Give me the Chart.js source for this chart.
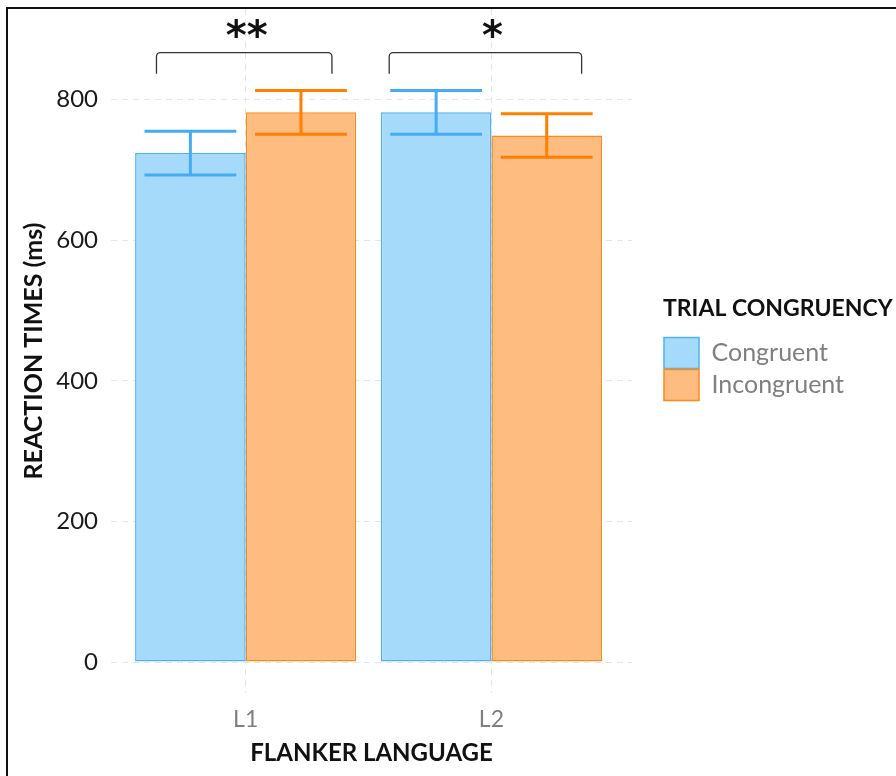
<!DOCTYPE html>
<html>
<head>
<meta charset="utf-8">
<script src="https://cdn.jsdelivr.net/npm/chart.js@4.4.1/dist/chart.umd.min.js"></script>
<style>
    html, body { margin: 0; padding: 0; background: #fff; overflow: hidden; }
    #wrap { position: relative; width: 896px; height: 776px; }
    #frame { position: absolute; left: 6px; top: 7px; width: 900px; height: 780px;
             border-left: 2px solid #111; border-top: 2px solid #111; pointer-events: none; }
</style>
</head>
<body>
<div id="wrap">
    <canvas id="rt-chart" width="896" height="776"></canvas>
    <div id="frame"></div>
</div>
<script>
// data
const categories = ['L1', 'L2'];
const categoryPos = [1, 2];
const congruent = [724, 782];
const incongruent = [782, 749];
const congruentSE = [31, 31];
const incongruentSE = [31, 31];
const yTicks = [0, 200, 400, 600, 800];

// significance brackets (x in category units, y in ms)
const sigLabels = ['**', '*'];
const bracketFrom = [0.637, 1.584];
const bracketTo = [1.351, 2.367];
const bracketTop = [867, 867];
const bracketFoot = [837, 837];
const sigLabelY = [898, 898];

const seriesColors = {
    congruent: { fill: '#a6dafa', border: '#4fb2f2', err: '#44acf5' },
    incongruent: { fill: '#ffbc80', border: '#ff8a17', err: '#ff7f00' }
};

const errorSets = [congruentSE, incongruentSE];

const extrasPlugin = {
    id: 'extras',
    beforeLayout(chart) {
        // legend box runs from x=663 to the right edge so the title is not clipped
        const lg = chart.legend;
        if (lg && !lg._wide) {
            const fit = lg.fit.bind(lg);
            lg.fit = function() { fit(); this.width = 233; };
            lg._wide = true;
        }
    },
    afterDatasetsDraw(chart) {
        const ctx = chart.ctx;
        const xs = chart.scales.x;
        const ys = chart.scales.y;

        // error bars
        chart.data.datasets.forEach((ds, i) => {
            const meta = chart.getDatasetMeta(i);
            meta.data.forEach((bar, j) => {
                const v = ds.data[j].y;
                const se = errorSets[i][j];
                const yHi = ys.getPixelForValue(v + se);
                const yLo = ys.getPixelForValue(v - se);
                const half = bar.width * 0.415;
                ctx.save();
                ctx.strokeStyle = ds.errorColor;
                ctx.lineWidth = 3;
                ctx.beginPath();
                ctx.moveTo(bar.x, yHi);
                ctx.lineTo(bar.x, yLo);
                ctx.moveTo(bar.x - half, yHi);
                ctx.lineTo(bar.x + half, yHi);
                ctx.moveTo(bar.x - half, yLo);
                ctx.lineTo(bar.x + half, yLo);
                ctx.stroke();
                ctx.restore();
            });
        });

        // brackets and stars
        sigLabels.forEach((lab, k) => {
            const x0 = xs.getPixelForValue(bracketFrom[k]);
            const x1 = xs.getPixelForValue(bracketTo[k]);
            const yt = ys.getPixelForValue(bracketTop[k]);
            const yf = ys.getPixelForValue(bracketFoot[k]);
            ctx.save();
            ctx.strokeStyle = '#333';
            ctx.lineWidth = 1.3;
            ctx.beginPath();
            ctx.moveTo(x0, yf);
            ctx.arcTo(x0, yt, x1, yt, 4);
            ctx.arcTo(x1, yt, x1, yf, 4);
            ctx.lineTo(x1, yf);
            ctx.stroke();
            ctx.fillStyle = '#111';
            ctx.font = 'bold 40px "DejaVu Sans"';
            ctx.textAlign = 'center';
            ctx.textBaseline = 'middle';
            ctx.fillText(lab, xs.getPixelForValue(categoryPos[k]) + 1, ys.getPixelForValue(sigLabelY[k]) + 8);
            ctx.restore();
        });
    }
};

const chart = new Chart(document.getElementById('rt-chart'), {
    type: 'bar',
    data: {
        datasets: [{
            label: 'Congruent',
            data: categoryPos.map((x, i) => ({ x: x, y: congruent[i] })),
            backgroundColor: seriesColors.congruent.fill,
            borderColor: seriesColors.congruent.border,
            errorColor: seriesColors.congruent.err,
            borderWidth: 1.5,
            borderSkipped: false
        }, {
            label: 'Incongruent',
            data: categoryPos.map((x, i) => ({ x: x, y: incongruent[i] })),
            backgroundColor: seriesColors.incongruent.fill,
            borderColor: seriesColors.incongruent.border,
            errorColor: seriesColors.incongruent.err,
            borderWidth: 1.5,
            borderSkipped: false
        }]
    },
    options: {
        responsive: false,
        animation: false,
        categoryPercentage: 0.9,
        barPercentage: 1.0,
        layout: { padding: { left: 0, right: 0, top: 9, bottom: 0 } },
        scales: {
            x: {
                type: 'linear',
                min: 0.452,
                max: 2.572,
                offset: false,
                afterBuildTicks: (scale) => { scale.ticks = categoryPos.map(v => ({ value: v })); },
                afterFit: (scale) => { scale.height = 83; scale.paddingLeft = 0; scale.paddingRight = 0; },
                grid: { color: '#e6e6e6', drawTicks: false, offset: false },
                border: { display: false, dash: [6, 5] },
                ticks: {
                    padding: 13,
                    color: '#7f7f7f',
                    font: { family: 'Lato', size: 23 },
                    callback: (v) => categories[categoryPos.indexOf(v)]
                },
                title: {
                    display: true,
                    text: 'FLANKER LANGUAGE',
                    color: '#111',
                    font: { family: 'Lato', size: 24, weight: 'bold' },
                    padding: { top: 0, bottom: 8 }
                }
            },
            y: {
                min: -44,
                max: 929,
                afterBuildTicks: (scale) => { scale.ticks = yTicks.map(v => ({ value: v })); },
                afterFit: (scale) => { scale.width = 111; scale.paddingTop = 0; scale.paddingBottom = 0; },
                grid: { color: '#e6e6e6', drawTicks: false },
                border: { display: false, dash: [6, 5] },
                ticks: {
                    padding: 13,
                    color: '#1a1a1a',
                    font: { family: 'Lato', size: 24 }
                },
                title: {
                    display: true,
                    text: 'REACTION TIMES (ms)',
                    color: '#111',
                    font: { family: 'Lato', size: 25, weight: 'bold' },
                    padding: { top: 19, bottom: 0 }
                }
            },
            // empty strip between the panel and the legend
            gap: {
                type: 'linear',
                position: 'right',
                grid: { display: false },
                border: { display: false },
                ticks: { display: false },
                afterFit: (scale) => { scale.width = 31; scale.paddingTop = 0; scale.paddingBottom = 0; }
            }
        },
        plugins: {
            legend: {
                position: 'right',
                align: 'start',
                title: {
                    display: true,
                    text: 'TRIAL CONGRUENCY',
                    position: 'start',
                    color: '#111',
                    font: { family: 'Lato', size: 23, weight: 'bold' },
                    padding: { top: 288, bottom: 12 }
                },
                labels: {
                    boxWidth: 35,
                    boxHeight: 31,
                    padding: 1,
                    color: '#808080',
                    font: { family: 'Lato', size: 25 }
                }
            },
            tooltip: { enabled: false }
        }
    },
    plugins: [extrasPlugin]
});
</script>
</body>
</html>
